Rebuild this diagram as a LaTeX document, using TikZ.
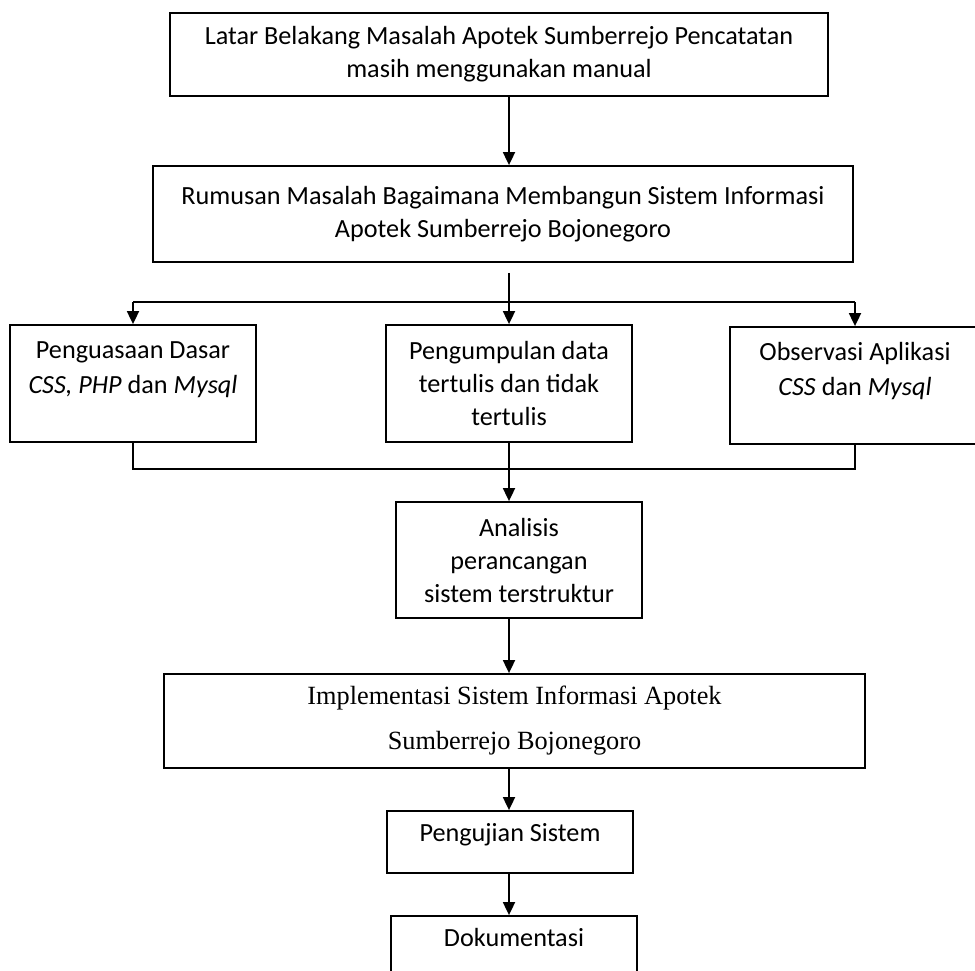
\documentclass[tikz,border=0pt]{standalone}
\usepackage{fontspec}
\setmainfont{Carlito}
\newfontfamily\timesfont{Liberation Serif}
\usetikzlibrary{positioning,arrows.meta}

\begin{document}
\begin{tikzpicture}[>={Triangle[length=13pt,width=12pt]}, line width=1.8pt, x=1pt, y=-1pt,
  box/.style={draw, rectangle, align=center, inner sep=0pt, font=\fontsize{26.2}{33}\selectfont},
  txt/.style={align=center, inner sep=0pt, font=\fontsize{26.2}{35}\selectfont}]
  \fill[white] (0,0) rectangle (975,970);
  \useasboundingbox (0,0) rectangle (975,970);

  % Latar belakang
  \node[box, minimum width=658pt, minimum height=83pt] (latar) at (499,54.5)
    {Latar Belakang Masalah Apotek Sumberrejo Pencatatan\\masih menggunakan manual};
  \coordinate (axis) at (509,0);

  % Rumusan masalah
  \node[box, minimum width=700pt, minimum height=96pt] (rumusan) at (503,214)
    {Rumusan Masalah Bagaimana Membangun Sistem Informasi\\Apotek Sumberrejo Bojonegoro};
  \draw[->] (latar.south -| axis) -- (rumusan.north -| axis);

  % Tiga cabang
  \node[box, minimum width=246pt, minimum height=117pt] (dasar) at (133,383.5) {};
  \node[txt, below=17pt of dasar.north] (dasar_txt)
    {Penguasaan Dasar\\\textit{CSS, PHP} dan \textit{Mysql}};
  \node[box, minimum width=246pt, minimum height=117pt] (data) at (509,383.5)
    {Pengumpulan data\\tertulis dan tidak\\tertulis};
  \node[box, minimum width=250pt, minimum height=117pt] (observasi) at (855,385.5) {};
  \node[txt, below=15.5pt of observasi.north] (observasi_txt)
    {Observasi Aplikasi\\\textit{CSS} dan \textit{Mysql}};

  \coordinate (split) at (509,302);
  \draw[->, shorten <=10pt] (rumusan.south -| axis) -- (data.north);
  \draw (split -| dasar) -- (split -| observasi);
  \draw[->] (split -| dasar) -- (dasar.north);
  \draw[->] (split -| observasi) -- (observasi.north);

  % Gabung
  \coordinate (merge) at (509,469);
  \node[box, minimum width=246pt, minimum height=116pt] (analisis) at (519,560)
    {Analisis\\perancangan\\sistem terstruktur};
  \draw (dasar.south) |- (merge) -| (observasi.south);
  \draw[->] (data.south) -- (analisis.north -| data);

  % Implementasi
  \node[box, minimum width=701pt, minimum height=94pt,
    font=\timesfont\fontsize{26.3}{45}\selectfont] (implementasi) at (514.5,721)
    {Implementasi Sistem Informasi Apotek\\Sumberrejo Bojonegoro};
  \draw[->] (analisis.south -| axis) -- (implementasi.north -| axis);

  % Pengujian dan dokumentasi
  \node[box, minimum width=246pt, minimum height=62pt, text depth=20pt] (pengujian) at (510,842)
    {Pengujian Sistem};
  \node[box, minimum width=246pt, minimum height=62pt, text depth=20pt] (dokumentasi) at (514,947)
    {Dokumentasi};
  \draw[->] (implementasi.south -| axis) -- (pengujian.north -| axis);
  \draw[->] (pengujian.south -| axis) -- (dokumentasi.north -| axis);
\end{tikzpicture}
\end{document}
